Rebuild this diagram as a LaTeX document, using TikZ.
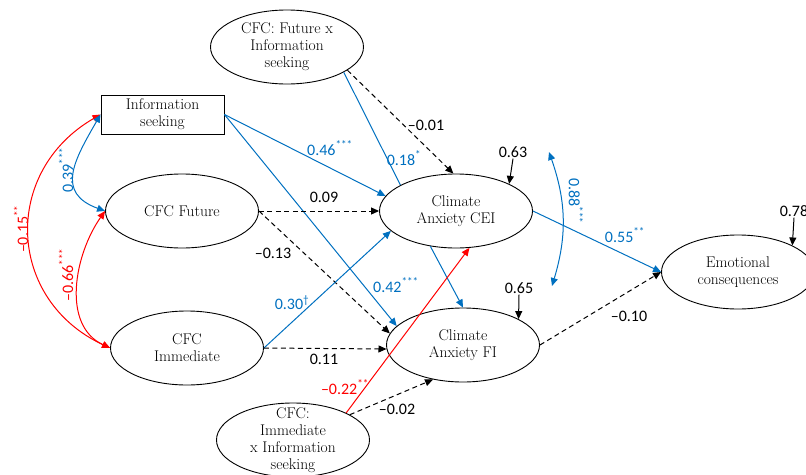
\documentclass[tikz,border=0pt]{standalone}
\usepackage{fontspec}
\usepackage{tikz}
\usetikzlibrary{shapes.geometric, arrows.meta}
\newfontfamily\numfont{Carlito}
\definecolor{pathblue}{RGB}{0,112,192}

\begin{document}
\begin{tikzpicture}[x=1pt, y=1pt, >={Triangle[length=8pt, width=7pt]},
    main/.style = {draw, ellipse, line width=0.9pt, minimum width=153pt, minimum height=74pt, inner sep=0pt, align=center, font=\fontsize{15.5}{17}\selectfont},
    boxnode/.style = {draw, rectangle, line width=0.9pt, minimum width=123pt, minimum height=39pt, inner sep=0pt, align=center, font=\fontsize{15.5}{17}\selectfont},
    num/.style = {font=\numfont\fontsize{16}{18}\selectfont, inner sep=1pt},
    bluepath/.style = {pathblue, line width=1pt},
    redpath/.style = {red, line width=1pt},
    dashpath/.style = {line width=1pt, dash pattern=on 5pt off 3.5pt}]
    \useasboundingbox (0,0) rectangle (806,-474);
        \node[boxnode] (1) at (162.5,-114.5) {Information\\seeking};
        \node[main] (2) at (182,-211) {CFC Future};
        \node[main] (3) at (187,-348) {CFC\\Immediate};
        \node[main] (4) at (287,-47) {CFC: Future x\\Information\\seeking};
        \node[main] (5) at (293,-440) {};
        \node[align=center, font=\fontsize{15.5}{17}\selectfont] (5t) at (5) {CFC:\\Immediate\\x Information\\seeking};
        \node[main] (6) at (456,-211) {Climate\\Anxiety CEI};
        \node[main] (7) at (463,-345) {Climate\\Anxiety FI};
        \node[main] (8) at (738,-272) {Emotional\\consequences};
        % paths
        \draw[->, bluepath] (1.east) -- (6.168);
        \draw[->, bluepath] (1.east) -- (7.164);
        \draw[bluepath] (4.-24) -- (6.155);
        \draw[->, dashpath] (4.-21) -- (6.94);
        \draw[->, dashpath] (2.east) -- (6.west);
        \draw[->, dashpath] (2.east) -- (7.171);
        \draw[->, bluepath] (3.east) -- (6.197);
        \draw[->, dashpath] (3.east) -- (7.183);
        \draw[->, bluepath] (6.234) -- (7.north);
        \draw[->, redpath] (5.27) -- (6.-70);
        \draw[->, dashpath] (5.24) -- (7.229);
        \draw[->, bluepath] (6.east) -- (8.west);
        \draw[->, dashpath] (7.east) -- (8.west);
        % correlations
        \draw[<->, redpath] (1.west) to[out=210, in=155, looseness=1.25] (3.west);
        \draw[<->, bluepath] (1.west) to[out=240, in=160, looseness=1.4] (2.west);
        \draw[<->, redpath] (2.west) to[out=235, in=155] (3.west);
        \coordinate (a) at (549,-152);
        \coordinate (b) at (552,-286);
        \draw[<->, bluepath] (a) to[bend left=18] (b);
        % residuals
        \node[num] (9) at (513,-152) {0.63};
        \node[num] (10) at (519,-288) {0.65};
        \node[num] (11) at (794,-211) {0.78};
        \draw[->, line width=1pt] (9.south) -- (6.27);
        \draw[->, line width=1pt] (10.south) -- (7.25);
        \draw[->, line width=1pt] (11.south) -- (8.26);
        % coefficients
        \node[num, pathblue] (12) at (330,-148) {0.46\textsuperscript{***}};
        \node[num, pathblue] (13) at (404,-158) {0.18\textsuperscript{*}};
        \node[num] (14) at (426,-125) {\textendash0.01};
        \node[num] (15) at (324,-197) {0.09};
        \node[num] (16) at (273,-253) {\textendash0.13};
        \node[num, pathblue] (17) at (292,-303) {0.30\textsuperscript{\textdagger}};
        \node[num, pathblue] (18) at (396,-285) {0.42\textsuperscript{***}};
        \node[num] (19) at (324,-359) {0.11};
        \node[num, red] (20) at (345,-387) {\textendash0.22\textsuperscript{**}};
        \node[num] (21) at (397,-409) {\textendash0.02};
        \node[num, pathblue] (22) at (625,-235) {0.55\textsuperscript{**}};
        \node[num] (23) at (629,-316) {\textendash0.10};
        \node[num, pathblue, rotate=90] (24) at (66,-170) {0.39\textsuperscript{***}};
        \node[num, red, rotate=90] (25) at (21,-229) {\textendash0.15\textsuperscript{**}};
        \node[num, red, rotate=90] (26) at (66,-275) {\textendash0.66\textsuperscript{***}};
        \node[num, pathblue, rotate=-90] (27) at (576,-201) {0.88\textsuperscript{***}};
    \end{tikzpicture}
\end{document}
